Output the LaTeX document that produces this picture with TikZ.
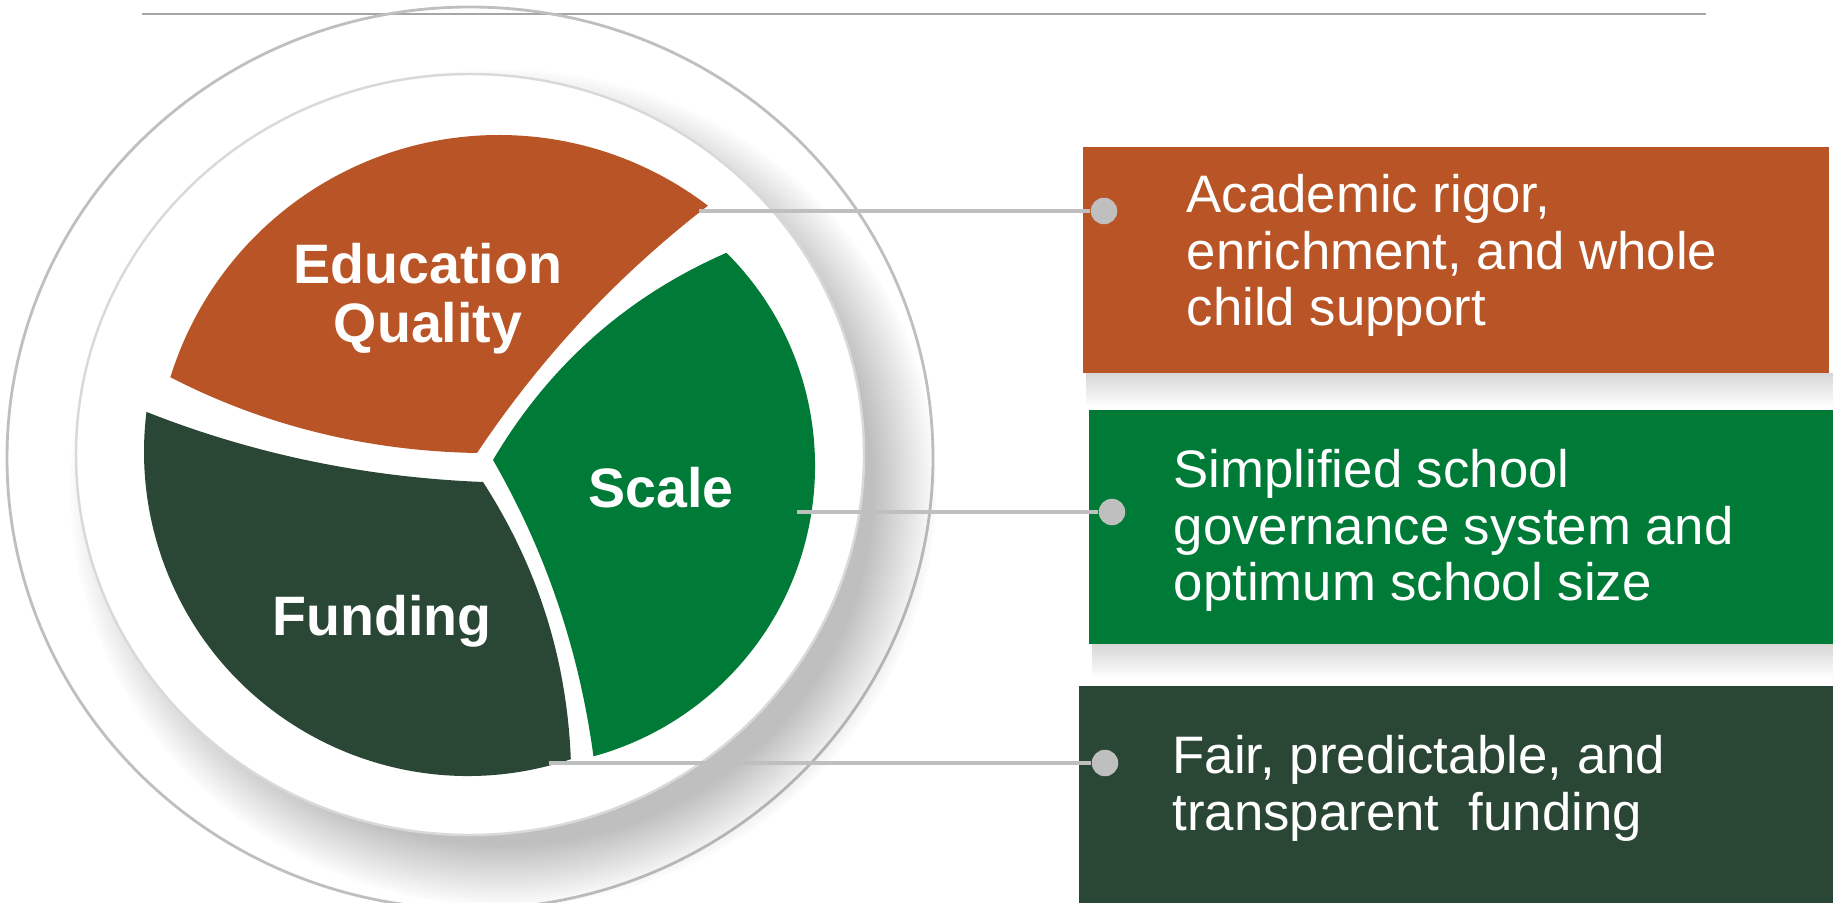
\documentclass[tikz,border=0pt]{standalone}
\usepackage{fontspec}
\setmainfont{Liberation Sans}
\usepackage{xcolor}
\usepackage{tikz}
\usetikzlibrary{shadows}
\definecolor{eduorange}{HTML}{B85425}
\definecolor{scalegreen}{HTML}{007A37}
\definecolor{fundgreen}{HTML}{2A4635}
\definecolor{wiregray}{HTML}{BFBFBF}

\begin{document}
\begin{tikzpicture}[x=0.01cm, y=-0.01cm,
    wire/.style={draw=wiregray, line width=0.95pt},
    pin/.style={circle, fill=wiregray, minimum size=0.265cm, inner sep=0pt},
    slicetext/.style={text=white, inner sep=0pt, align=center, font=\fontsize{15.8}{16.9}\selectfont\bfseries},
    boxtext/.style={text=white, inner sep=0pt, align=left, anchor=north west, font=\fontsize{15}{16}\selectfont}]
    \useasboundingbox (0,0) rectangle (1833,903);

    \draw[black!35, line width=0.6pt] (142,14) -- (1706,14);
    \draw[wiregray, line width=0.8pt] (470,458) ellipse[x radius=463, y radius=451];
    \fill[white, circular drop shadow={shadow xshift=0.3cm, shadow yshift=-0.3cm, shadow scale=1.1, opacity=0.25, fill=black}]
        (470,454.5) ellipse[x radius=394, y radius=380.5];
    \draw[black!15, line width=0.7pt] (470,454.5) ellipse[x radius=394, y radius=380.5];

    \fill[eduorange] (477,453) .. controls (540.4,358) and (617.4,275.6) .. (707.9,205.7)
        arc[start angle=-52.6, end angle=-162.8, radius=344]
        .. controls (264.8,425.8) and (367,451) .. (477,453) -- cycle;
    \fill[scalegreen] (493,460) .. controls (549,365.3) and (626.8,296.3) .. (726.5,252.8)
        arc[start angle=-45.1, end angle=74.7, radius=301]
        .. controls (579.1,650.1) and (545.7,551.3) .. (493,460) -- cycle;
    \fill[fundgreen] (483,482) .. controls (537.7,566.7) and (566.9,659.1) .. (570.8,759.2)
        arc[start angle=71.5, end angle=187.1, radius=324]
        .. controls (252.8,454) and (365,477.3) .. (483,482) -- cycle;

    \node[slicetext, anchor=north] (quality) at (428,242.5) {Education\\Quality};
    \node[slicetext, anchor=base] (scale) at (661,507) {Scale};
    \node[slicetext, anchor=base] (funding) at (382,635) {Funding};

    \shade[top color=black!16, bottom color=white] (1086,373) rectangle (1833,407);
    \shade[top color=black!16, bottom color=white] (1092,644) rectangle (1833,678);
    \fill[eduorange] (1083,147) rectangle (1829,373);
    \fill[scalegreen] (1089,410) rectangle (1833,644);
    \fill[fundgreen] (1079,686) rectangle (1833,903);

    \node[boxtext] (qtext) at (1186,174) {Academic rigor,\\enrichment, and whole\\child support};
    \node[boxtext] (stext) at (1173,449) {Simplified school\\governance system and\\optimum school size};
    \node[boxtext] (ftext) at (1172,735) {Fair, predictable, and\\transparent~~funding};

    \coordinate (qstart) at (699,211);
    \coordinate (sstart) at (797,512);
    \coordinate (fstart) at (549,763);
    \node[pin] (qpin) at (1104,211) {};
    \node[pin] (spin) at (1112,512) {};
    \node[pin] (fpin) at (1105,763) {};
    \draw[wire] (qstart) -- (qpin);
    \draw[wire] (sstart) -- (spin);
    \draw[wire] (fstart) -- (fpin);
\end{tikzpicture}
\end{document}
